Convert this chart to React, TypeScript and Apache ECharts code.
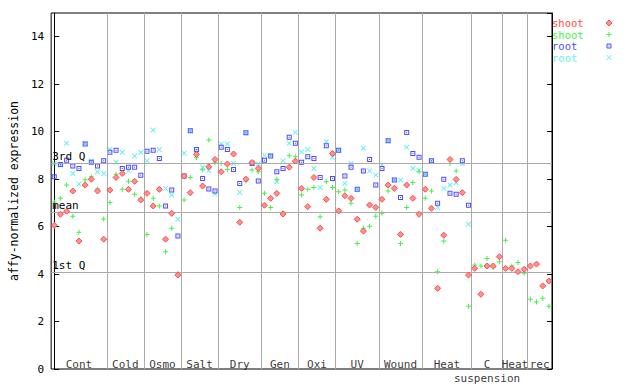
import React, { useEffect, useRef } from "react";
import * as echarts from "echarts";

const groupNames = ["Cont", "Cold", "Osmo", "Salt", "Dry", "Gen", "Oxi", "UV", "Wound", "Heat", "C", "Heat", "rec"];
const groupSubNames = ["", "", "", "", "", "", "", "", "", "", "suspension", "", ""];
const groupSizes = [9, 6, 6, 6, 7, 6, 6, 7, 7, 8, 5, 4, 4];

const shootRed = [
  6.05, 6.52, 6.65, 7.5, 5.39, 7.75, 8.0, 7.5, 5.47,
  7.54, 8.07, 8.24, 7.57, 7.91, 7.12,
  7.4, 6.87, 7.57, 5.47, 6.56, 3.96,
  8.13, 7.43, 9.04, 7.71, 8.52, 8.83,
  8.31, 8.64, 9.06, 6.18, 8.0, 8.7, 8.45,
  6.9, 7.19, 7.4, 6.53, 8.5, 8.76,
  7.61, 6.84, 8.07, 5.93, 7.15, 9.08,
  6.66, 7.3, 7.19, 6.31, 5.81, 6.91, 6.81,
  7.15, 7.75, 7.61, 5.67, 7.75, 7.19, 6.52,
  7.57, 6.77, 3.4, 5.64, 8.83, 7.99, 7.43, 3.96,
  4.24, 3.15, 4.34, 4.34, 4.73,
  4.24, 4.24, 4.1, 4.2,
  4.34, 4.42, 3.5, 3.71,
];

const shootGreen = [
  7.04, 7.19, 7.75, 6.44, 5.76, 7.97, 8.1, 7.58, 6.32,
  7.02, 8.21, 7.57, 7.91, 7.36, 7.19,
  5.67, 7.19, 6.87, 4.94, 5.93, 4.03,
  7.12, 8.07, 8.9, 8.4, 9.65, 8.69,
  8.66, 8.41, 9.06, 6.81, 7.92, 8.38, 8.31,
  7.4, 6.81, 7.99, 6.6, 8.98, 8.94,
  7.33, 7.57, 7.65, 6.42, 7.89, 7.65,
  7.47, 7.54, 6.98, 5.29, 5.93, 6.02, 6.44,
  6.56, 7.5, 7.64, 5.29, 6.81, 7.86, 8.31,
  7.19, 7.5, 4.1, 5.39, 8.66, 8.34, 7.4, 2.64,
  4.38, 4.34, 4.66, 4.28, 4.52,
  5.43, 4.34, 4.49, 4.03,
  2.94, 2.82, 2.98, 2.64,
];

const rootBlue = [
  8.1, 8.62, 8.8, 8.55, 8.45, 9.48, 8.71, 8.55, 8.77,
  9.13, 9.22, 8.45, 8.5, 8.5, 8.16,
  9.18, 9.22, 8.87, 6.87, 7.54, 5.6,
  8.13, 10.04, 9.25, 8.03, 7.58, 7.5,
  9.34, 9.25, 8.41, 7.82, 9.95, 8.66, 7.92,
  8.8, 8.97, 8.31, 8.45, 9.76, 9.51,
  8.71, 8.94, 8.87, 8.07, 9.41, 8.03,
  9.22, 8.13, 8.5, 7.57, 8.34, 8.83, 7.75,
  8.45, 9.62, 7.96, 7.23, 9.97, 9.08, 8.92,
  8.21, 8.77, 6.98, 7.99, 7.4, 7.36, 8.77, 6.9,
];

const rootCyan = [
  8.66, 8.6, 9.51, 8.24, 7.79, 9.5, 8.76, 8.31, 8.24,
  9.25, 8.71, 9.13, 8.35, 8.97, 9.13,
  8.77, 10.07, 9.25, 7.61, 7.33, 6.31,
  9.09, 10.04, 9.2, 8.5, 8.35, 7.37,
  9.48, 9.48, 8.66, 7.44, 9.95, 8.7, 8.64,
  9.0, 9.0, 7.89, 8.77, 9.51, 9.97,
  9.15, 9.25, 8.45, 7.65, 9.58, 8.92,
  9.22, 7.82, 8.66, 7.57, 9.3, 8.35, 8.17,
  8.59, 9.62, 7.96, 7.96, 9.34, 8.45, 8.38,
  8.21, 8.77, 6.81, 7.61, 7.75, 7.85, 8.66, 6.1,
];

const refLines = [
  { name: "3rd Q", value: 8.66 },
  { name: "mean", value: 6.6 },
  { name: "1st Q", value: 4.07 },
];

const legendNames = ["shoot", "shoot", "root", "root"];
const yMin = 0;
const yMax = 15;
const yInterval = 2;

const FONT = "'DejaVu Sans Mono', monospace";
const RED = "#ff4d4d";
const GREEN = "#48f048";
const BLUE = "#4d4dff";
const CYAN = "#66f2f2";
const GRAY = "#aaaaaa";

const plusPath = "path://M2,0H3V2H5V3H3V5H2V3H0V2H2Z";
const squarePath = "path://M0,0H5V5H0Z M1,1V4H4V1Z M2,2H3V3H2Z";
const xPath =
  "path://M0,0L0.7,0L2.5,1.8L4.3,0L5,0L5,0.7L3.2,2.5L5,4.3L5,5L4.3,5L2.5,3.2L0.7,5L0,5L0,4.3L1.8,2.5L0,0.7Z";

export default function App() {
  const ref = useRef<HTMLDivElement>(null);
  useEffect(() => {
    const chart = echarts.init(ref.current!, null, { renderer: "svg" });
    const n = shootRed.length;
    const bounds: number[] = [];
    const labelData: any[] = [];
    let start = 0;
    groupSizes.forEach((s, k) => {
      const c = start + (s - 1) / 2;
      labelData.push({ name: groupNames[k], value: [c, 0.2] });
      if (groupSubNames[k]) {
        labelData.push({ name: groupSubNames[k], value: [c, 0.2], label: { offset: [0, 14] } });
      }
      start += s;
      if (k < groupSizes.length - 1) bounds.push(start - 0.5);
    });
    const toPts = (arr: number[]) => arr.map((v, i) => [i, v]);

    const legendColors = [RED, GREEN, BLUE, CYAN];
    const lx = 552;
    const ly = [23, 34.5, 46, 57.5];
    const ix = 609;
    const graphic: any[] = [];
    legendNames.forEach((nm, k) => {
      graphic.push({
        type: "text",
        x: lx,
        y: ly[k],
        style: { text: nm, fill: legendColors[k], font: `10.5px ${FONT}`, verticalAlign: "middle" },
      });
    });
    graphic.push({
      type: "polygon",
      shape: { points: [[ix, ly[0] - 3], [ix + 3, ly[0]], [ix, ly[0] + 3], [ix - 3, ly[0]]] },
      style: { fill: "#ff9090", stroke: RED, lineWidth: 1 },
    });
    graphic.push({ type: "rect", shape: { x: ix - 2.5, y: ly[1] - 0.5, width: 5, height: 1 }, style: { fill: GREEN } });
    graphic.push({ type: "rect", shape: { x: ix - 0.5, y: ly[1] - 2.5, width: 1, height: 5 }, style: { fill: GREEN } });
    graphic.push({ type: "rect", shape: { x: ix - 2, y: ly[2] - 2, width: 4, height: 4 }, style: { fill: "none", stroke: BLUE, lineWidth: 1 } });
    graphic.push({ type: "rect", shape: { x: ix - 0.5, y: ly[2] - 0.5, width: 1, height: 1 }, style: { fill: BLUE } });
    graphic.push({ type: "line", shape: { x1: ix - 2.5, y1: ly[3] - 2.5, x2: ix + 2.5, y2: ly[3] + 2.5 }, style: { stroke: CYAN, lineWidth: 1 } });
    graphic.push({ type: "line", shape: { x1: ix - 2.5, y1: ly[3] + 2.5, x2: ix + 2.5, y2: ly[3] - 2.5 }, style: { stroke: CYAN, lineWidth: 1 } });

    const yAxisBase = {
      type: "value",
      min: yMin,
      max: yMax,
      interval: yInterval,
      splitLine: { show: false },
      axisLine: { show: true, lineStyle: { color: "#000", width: 1 } },
      axisTick: { show: true, inside: true, length: 5, lineStyle: { color: "#000" } },
    };

    chart.setOption({
      animation: false,
      grid: { left: 44, right: 88, top: 13, bottom: 15, show: true, borderColor: "#000", borderWidth: 1 },
      xAxis: { type: "value", min: -0.5, max: n - 0.5, show: false },
      yAxis: [
        {
          ...yAxisBase,
          position: "left",
          name: "affy-normalized expression",
          nameLocation: "middle",
          nameGap: 28,
          nameTextStyle: { fontFamily: FONT, fontSize: 11.5, color: "#000" },
          axisLabel: { show: true, showMaxLabel: false, color: "#000", fontFamily: FONT, fontSize: 11, margin: 7 },
        },
        {
          ...yAxisBase,
          position: "right",
          axisLabel: { show: false },
        },
      ],
      graphic,
      series: [
        {
          type: "scatter",
          name: "lines",
          data: [],
          z: 1,
          silent: true,
          markLine: {
            silent: true,
            symbol: "none",
            animation: false,
            lineStyle: { color: GRAY, width: 1, type: "solid" },
            label: {
              show: true,
              position: "insideStartTop",
              formatter: "{b}",
              color: "#000",
              fontFamily: FONT,
              fontSize: 11,
              distance: [1, 1],
            },
            data: [
              ...bounds.map((b) => ({ xAxis: b, label: { show: false } })),
              ...refLines.map((r) => ({ name: r.name, yAxis: r.value })),
            ],
          },
        },
        {
          type: "scatter",
          name: "rootCyan",
          data: toPts(rootCyan),
          symbol: xPath,
          symbolSize: 5,
          itemStyle: { color: CYAN, opacity: 1 },
          z: 2,
        },
        {
          type: "scatter",
          name: "rootBlue",
          data: toPts(rootBlue),
          symbol: squarePath,
          symbolSize: 5,
          itemStyle: { color: BLUE, opacity: 1 },
          z: 3,
        },
        {
          type: "scatter",
          name: "shootGreen",
          data: toPts(shootGreen),
          symbol: plusPath,
          symbolSize: 5,
          itemStyle: { color: GREEN, opacity: 1 },
          z: 4,
        },
        {
          type: "scatter",
          name: "shootRed",
          data: toPts(shootRed),
          symbol: "diamond",
          symbolSize: 6,
          itemStyle: { color: "#ff9090", borderColor: RED, borderWidth: 1, opacity: 1 },
          z: 5,
        },
        {
          type: "scatter",
          name: "groupLabels",
          data: labelData,
          symbolSize: 0,
          silent: true,
          z: 6,
          label: {
            show: true,
            position: "inside",
            formatter: "{b}",
            color: "#000",
            fontFamily: FONT,
            fontSize: 11,
          },
        },
      ],
    });
    return () => chart.dispose();
  }, []);
  return <div ref={ref} style={{ position: "absolute", left: 0, top: 0, width: 640, height: 384 }} />;
}
